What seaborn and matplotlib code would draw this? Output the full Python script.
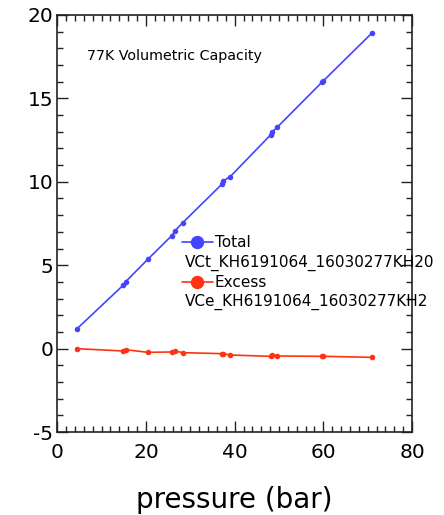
import matplotlib
matplotlib.use("Agg")
import matplotlib.pyplot as plt
import seaborn as sns
import pandas as pd
from matplotlib.ticker import MultipleLocator

pressure = [4.4, 14.9, 15.4, 20.4, 25.8, 26.5, 28.3, 37.1, 37.4, 39.0, 48.1, 48.5, 49.6, 59.8, 60.0, 70.9]
total = [1.18, 3.81, 4.01, 5.35, 6.77, 7.05, 7.55, 9.85, 10.05, 10.31, 12.81, 13.0, 13.27, 16.0, 16.05, 18.9]
excess = [0.0, -0.14, -0.06, -0.22, -0.20, -0.14, -0.24, -0.30, -0.30, -0.38, -0.46, -0.36, -0.44, -0.46, -0.46, -0.52]
series_names = ["Total", "Excess"]
series_ids = ["VCt_KH6191064_16030277KH20", "VCe_KH6191064_16030277KH2"]
annotation = "77K Volumetric Capacity"

sns.set_style("ticks")
plt.rcParams['font.family'] = ['DejaVu Sans']
plt.rcParams['axes.unicode_minus'] = False
plt.rcParams['text.color'] = 'black'
plt.rcParams['axes.labelcolor'] = 'black'

df_t = pd.DataFrame({"p": pressure, "v": total})
df_e = pd.DataFrame({"p": pressure, "v": excess})

fig = plt.figure(figsize=(4.44, 5.15), dpi=100)
ax = fig.add_axes([0.129, 0.161, 0.799, 0.810])

blue = "#4444FF"
red = "#FF3311"
sns.lineplot(data=df_t, x="p", y="v", ax=ax, color=blue, marker="o", markersize=4,
             markeredgewidth=0, linewidth=1.2, label=series_names[0], estimator=None)
sns.lineplot(data=df_e, x="p", y="v", ax=ax, color=red, marker="o", markersize=4,
             markeredgewidth=0, linewidth=1.2, label=series_names[1], estimator=None)

ax.set_xlim(0, 80)
ax.set_ylim(-5, 20)
ax.xaxis.set_major_locator(MultipleLocator(20))
ax.xaxis.set_minor_locator(MultipleLocator(2))
ax.yaxis.set_major_locator(MultipleLocator(5))
ax.yaxis.set_minor_locator(MultipleLocator(1))
ax.tick_params(which="both", direction="in", top=True, right=True, width=1.0, colors="#222222",
               labelcolor="black", labelsize=14.5)
ax.tick_params(which="major", length=8)
ax.tick_params(which="minor", length=4)
ax.tick_params(axis="x", which="major", pad=8)
ax.tick_params(axis="y", which="major", pad=3)
for s in ax.spines.values():
    s.set_linewidth(1.2)
    s.set_color("#222222")

ax.set_xlabel("pressure (bar)", fontsize=20, labelpad=17, color="black")
ax.set_ylabel("")

ax.text(0.084, 0.893, annotation, transform=ax.transAxes, fontsize=10.3, color="black")

# legend: handle + series name, with the identifier line below each entry
fs = 11
leg = ax.legend(loc="upper left", bbox_to_anchor=(182 / 444, 1 - 235 / 515),
                bbox_transform=fig.transFigure, frameon=False,
                fontsize=fs, markerscale=2.4, handlelength=2.0, handletextpad=0.15,
                borderpad=0, labelspacing=1.65, borderaxespad=0)
for t in leg.get_texts():
    t.set_color("black")
for txt, yc in zip(series_ids, [263, 302]):
    fig.text(185 / 444, 1 - yc / 515, txt, fontsize=fs, va="center", ha="left", color="black")

fig.savefig("out.png", dpi=100)
